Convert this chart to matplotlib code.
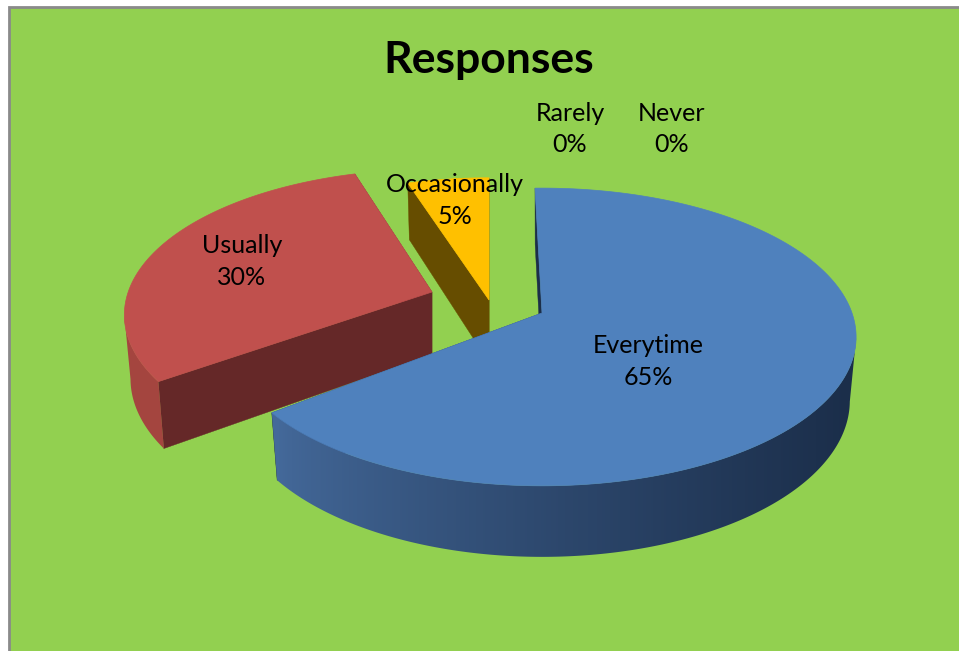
import numpy as np
import matplotlib
matplotlib.use('Agg')
import matplotlib.pyplot as plt
from matplotlib.patches import Polygon, Rectangle
from matplotlib.colors import LinearSegmentedColormap

categories = ['Everytime', 'Usually', 'Occasionally', 'Rarely', 'Never']
values = [65, 30, 5, 0, 0]

plt.rcParams['font.family'] = ['Lato', 'DejaVu Sans']

W, H = 959, 651
fig = plt.figure(figsize=(W / 100, H / 100), dpi=100, facecolor='white')
ax = fig.add_axes([0, 0, 1, 1])

# chart area with the grey frame on the top and left
ax.add_patch(Rectangle((9, 7), W, H, facecolor='#92d050', edgecolor='#8a8a8a', linewidth=2))

# look of the tilted pie
RX, RY, PERSP = 310, 145, 0.161
DEPTH, BOTTOM = 62.5, 0.98


def project(ang, r=1.0):
    # ang is clockwise from the top of the pie, in degrees
    t = np.radians(ang)
    u, v = r * np.sin(t), -r * np.cos(t)
    s = 1 / (1 - PERSP * v)
    return RX * u * s, RY * v * s, s


def draw_slice(start, end, apex, radius, top, side, wall_left, wall_right, z):
    ang = np.linspace(start, end, 400)
    dx, dy, s = project(ang, radius)
    ax_, ay_ = apex
    tx, ty = ax_ + dx, ay_ + dy
    bx, by = ax_ + dx * BOTTOM, ay_ + dy * BOTTOM + DEPTH * s

    # radial cut faces
    for i in [0, -1]:
        face = [(ax_, ay_), (tx[i], ty[i]), (bx[i], by[i]), (ax_, ay_ + DEPTH)]
        ax.add_patch(Polygon(face, facecolor=side, edgecolor=side, linewidth=0.3, zorder=z))

    # outer wall from one widest point of the ellipse to the other, shaded left to right
    front = -np.cos(np.radians(ang)) > PERSP
    if front.any():
        outline = np.column_stack([np.r_[tx[front], bx[front][::-1]], np.r_[ty[front], by[front][::-1]]])
        clip = Polygon(outline, facecolor='none', edgecolor='none', zorder=z + 0.1)
        ax.add_patch(clip)
        cmap = LinearSegmentedColormap.from_list('wall', [wall_left, wall_right])
        grad = (np.clip((np.arange(W) - 278) / (852 - 278), 0, 1) ** 0.8).reshape(1, -1)
        img = ax.imshow(grad, cmap=cmap, vmin=0, vmax=1, extent=(0, W, H, 0), aspect='auto', zorder=z + 0.1)
        img.set_clip_path(clip)

    # top surface
    pts = np.column_stack([np.r_[ax_, tx], np.r_[ay_, ty]])
    ax.add_patch(Polygon(pts, facecolor=top, edgecolor=top, linewidth=0.5, zorder=z + 0.2))


total = sum(values)
edges = np.cumsum([0] + values) / total * 360

# Usually, Occasionally and then Everytime, back to front
draw_slice(edges[1] + 1, edges[2] + 1, (432, 292), 0.98, '#c0504d', '#652828', '#a4453f', '#a4453f', 2)
draw_slice(edges[2], edges[3], (489, 300), 0.975, '#ffc000', '#664d00', '#664d00', '#664d00', 3)
draw_slice(edges[0] - 1.5, edges[1] - 2.3, (542, 313), 1.0, '#4f81bd', '#1c2e49', '#44699a', '#1b2e4a', 4)

label_x = [648, 242, 455, 570, 672]
label_y = [361.5, 261.5, 200.5, 129, 129]
for name, val, x, y in zip(categories, values, label_x, label_y):
    ax.text(x, y, f'{name}\n{val}%', ha='center', va='center', fontsize=18,
            color='black', linespacing=1.47, zorder=10)

ax.text(489, 60, 'Responses', ha='center', va='center', fontsize=32,
        fontweight='bold', color='black', zorder=10)

ax.set_xlim(0, W)
ax.set_ylim(H, 0)
ax.axis('off')

fig.savefig('out.png', dpi=100, facecolor='white')
